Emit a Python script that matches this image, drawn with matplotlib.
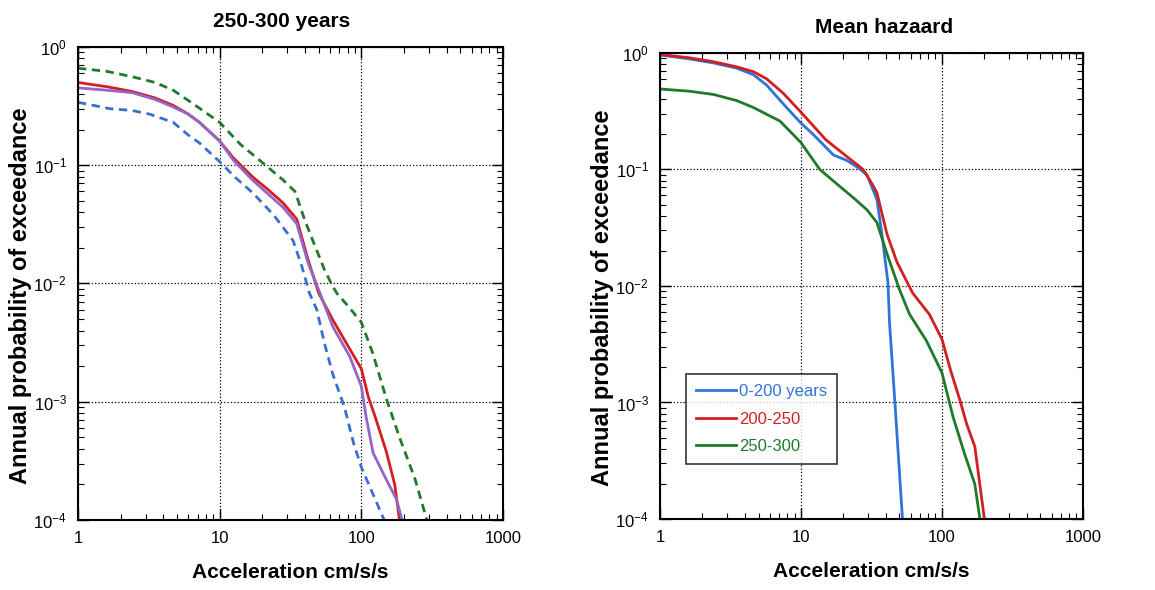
import matplotlib.pyplot as plt
import matplotlib.ticker as mticker
import numpy as np

plt.rcParams['font.family'] = ['Liberation Sans', 'DejaVu Sans']
plt.rcParams['mathtext.default'] = 'regular'

# left panel: 250-300 years
acc_green_dash = [1, 1.6, 2.4, 3.5, 4.7, 6.5, 10, 14, 21.5, 28, 34, 40, 45.5, 55, 63, 67, 80, 100, 120, 151, 186, 240, 290]
p_green_dash = [0.66, 0.62, 0.56, 0.50, 0.43, 0.33, 0.23, 0.15, 0.098, 0.075, 0.06, 0.034, 0.023, 0.013, 0.0094, 0.0083,
                0.0065, 0.0047, 0.0026, 0.00104, 0.0005, 0.00022, 1e-4]

acc_red = [1, 1.6, 2.4, 3.5, 4.7, 6, 7.2, 10, 12.5, 17.2, 22, 28, 35, 42, 50, 63, 80, 100, 112, 125, 150, 172, 186]
p_red = [0.50, 0.46, 0.42, 0.37, 0.32, 0.27, 0.23, 0.16, 0.115, 0.079, 0.062, 0.048, 0.035, 0.016, 0.0083, 0.0049,
         0.0030, 0.0019, 0.0011, 0.00075, 0.00038, 0.0002, 1e-4]

acc_purple = [1, 1.6, 2.4, 3.5, 4.7, 6, 7.2, 10, 12.5, 17.2, 22, 28, 35, 42, 51, 63, 83, 100, 108, 121, 150, 177, 194]
p_purple = [0.45, 0.43, 0.41, 0.36, 0.31, 0.27, 0.23, 0.16, 0.11, 0.074, 0.057, 0.044, 0.032, 0.015, 0.0083, 0.0043,
            0.0024, 0.00135, 0.00075, 0.00037, 0.00022, 0.00015, 1e-4]

acc_blue_dash = [1, 1.68, 2.4, 3.2, 4.7, 6, 7.2, 10, 13, 17.2, 24, 33, 38, 43, 48.5, 55, 63, 76, 88, 100, 115, 145]
p_blue_dash = [0.34, 0.30, 0.29, 0.27, 0.23, 0.18, 0.154, 0.107, 0.078, 0.058, 0.038, 0.023, 0.014, 0.0083, 0.006,
               0.0031, 0.0017, 0.0009, 0.00045, 0.00028, 0.00019, 1e-4]

# right panel: mean hazard
acc_mean_0_200 = [1, 1.6, 2.4, 3.5, 4.6, 5.7, 7.9, 10, 12.2, 17, 21, 25, 29.4, 34.6, 37.5, 41.4, 42.5, 46.4, 52.5]
p_mean_0_200 = [0.96, 0.89, 0.82, 0.74, 0.65, 0.53, 0.34, 0.25, 0.20, 0.133, 0.12, 0.105, 0.09, 0.055, 0.028, 0.0107,
                0.0048, 1e-3, 1e-4]

acc_mean_200_250 = [1, 1.6, 2.4, 3.5, 4.6, 5.7, 7.5, 10, 15, 21, 27.6, 32, 34.6, 40.7, 48, 57.5, 62, 81.5, 100, 115,
                    134, 150, 171, 200]
p_mean_200_250 = [0.97, 0.91, 0.84, 0.76, 0.69, 0.60, 0.45, 0.31, 0.18, 0.13, 0.10, 0.075, 0.063, 0.028, 0.016, 0.0104,
                  0.0087, 0.0057, 0.0035, 0.0019, 0.00105, 0.00065, 0.00042, 1e-4]

acc_mean_250_300 = [1, 1.6, 2.4, 3.5, 4.6, 7.1, 10, 13.6, 19, 24, 29.4, 34.6, 40.7, 50, 59, 77.5, 100, 120, 145, 171, 186]
p_mean_250_300 = [0.49, 0.47, 0.44, 0.39, 0.34, 0.26, 0.17, 0.10, 0.071, 0.056, 0.045, 0.035, 0.019, 0.0093, 0.0057,
                  0.0034, 0.0018, 0.00075, 0.00036, 0.0002, 1e-4]

x_ticks = [1, 10, 100, 1000]
x_ticklabels = ['1', '10', '100', '1000']


def style_axes(ax, title, title_x):
    ax.set_xscale('log')
    ax.set_yscale('log')
    ax.set_xlim(1, 1000)
    ax.set_ylim(1e-4, 1)
    ax.set_xticks(x_ticks)
    ax.xaxis.set_major_formatter(mticker.FixedFormatter(x_ticklabels))
    ax.xaxis.set_minor_locator(mticker.LogLocator(base=10, subs=np.arange(2, 10)))
    ax.yaxis.set_major_locator(mticker.LogLocator(base=10, numticks=10))
    ax.yaxis.set_minor_locator(mticker.LogLocator(base=10, subs=np.arange(2, 10), numticks=10))
    ax.yaxis.set_minor_formatter(mticker.NullFormatter())
    ax.tick_params(which='both', direction='in', top=True, right=True, labelsize=12, pad=8)
    ax.tick_params(which='major', length=8, width=1)
    ax.tick_params(which='minor', length=4, width=0.8)
    ax.grid(True, which='major', color='black', linestyle=':', linewidth=0.9)
    for s in ax.spines.values():
        s.set_linewidth(1.5)
    t = ax.set_title(title, fontsize=15, fontweight='bold', pad=14)
    t.set_x(title_x)
    ax.set_xlabel('Acceleration cm/s/s', fontsize=15, fontweight='bold', labelpad=12)
    ax.set_ylabel('Annual probability of exceedance', fontsize=17, fontweight='bold')
    ax.yaxis.set_label_coords(-0.108, 0.475)


fig = plt.figure(figsize=(11.55, 5.9), dpi=100)
ax1 = fig.add_axes([0.0675, 0.1186, 0.368, 0.802])
ax2 = fig.add_axes([0.5714, 0.1203, 0.3662, 0.790])

ax1.plot(acc_green_dash, p_green_dash, color='#1f7a2c', linestyle=(0, (3, 2)), linewidth=2)
ax1.plot(acc_blue_dash, p_blue_dash, color='#3a6fcf', linestyle=(0, (3, 2)), linewidth=2)
ax1.plot(acc_red, p_red, color='#d21f1f', linewidth=2)
ax1.plot(acc_purple, p_purple, color='#9466c8', linewidth=2)
style_axes(ax1, '250-300 years', 0.48)

l1, = ax2.plot(acc_mean_0_200, p_mean_0_200, color='#2f74d8', linewidth=2, label='0-200 years')
l2, = ax2.plot(acc_mean_200_250, p_mean_200_250, color='#d21f1f', linewidth=2, label='200-250')
l3, = ax2.plot(acc_mean_250_300, p_mean_250_300, color='#1f7a2c', linewidth=2, label='250-300')
style_axes(ax2, 'Mean hazaard', 0.53)

leg = ax2.legend(loc='lower left', bbox_to_anchor=(0.061, 0.118), fontsize=12,
                 frameon=True, fancybox=False, edgecolor='black', handlelength=2.4,
                 handletextpad=0.2, borderpad=0.6, labelspacing=0.75, borderaxespad=0)
leg.get_frame().set_linewidth(1.2)
for txt, ln in zip(leg.get_texts(), [l1, l2, l3]):
    txt.set_color(ln.get_color())

fig.savefig('out.png', dpi=100)
